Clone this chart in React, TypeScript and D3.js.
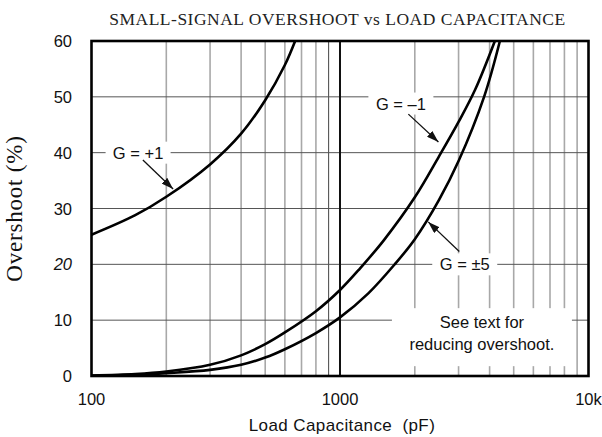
import React from "react";
import * as d3 from "d3";

const WIDTH = 602;
const HEIGHT = 437;
const MARGIN = { top: 41, right: 13.5, bottom: 61, left: 91.5 };

// load capacitance (pF) vs overshoot (%)
const gPlus1 = [
  [100, 25.3], [150, 28.8], [200, 32.1], [300, 37.9], [400, 43.4], [500, 49.4], [600, 55.7], [660, 60],
];
const gMinus1 = [
  [100, 0.1], [150, 0.35], [200, 0.8], [300, 2.0], [400, 3.7], [500, 5.7], [600, 7.8], [800, 11.6],
  [1000, 15.4], [1200, 19.2], [1500, 24.3], [2000, 32], [2500, 39.3], [3000, 45.5], [3500, 51.3], [4200, 60],
];
const gPlusMinus5 = [
  [100, 0.05], [150, 0.2], [200, 0.5], [300, 1.1], [400, 2.0], [500, 3.3], [600, 4.8], [800, 7.7],
  [1000, 10.5], [1300, 14.8], [1660, 20], [2000, 24.5], [2500, 31.5], [3000, 38.5], [3800, 50], [4400, 60],
];

const yTicks = [0, 10, 20, 30, 40, 50, 60];
const xTickLabels = [
  { v: 100, label: "100" },
  { v: 1000, label: "1000" },
  { v: 10000, label: "10k" },
];

// callouts: label anchor and arrow (from -> to), in data units
const callouts = [
  { text: "G = +1", at: [154, 40], from: [161, 38.7], to: [213, 33.5] },
  { text: "G = \u20131", at: [1758, 48.8], from: [1884, 46.9], to: [2489, 41.9] },
  { text: "G = \u00b15", at: [3177, 20], from: [3020, 22.3], to: [2265, 27.6] },
];
const noteLines = ["See text for", "reducing overshoot."];

export default function App() {
  const boundsWidth = WIDTH - MARGIN.left - MARGIN.right;
  const boundsHeight = HEIGHT - MARGIN.top - MARGIN.bottom;

  const xScale = d3.scaleLog().domain([100, 10000]).range([0, boundsWidth]);
  const yScale = d3.scaleLinear().domain([0, 60]).range([boundsHeight, 0]);

  const line = d3
    .line<number[]>()
    .x((d) => xScale(d[0]))
    .y((d) => yScale(d[1]))
    .curve(d3.curveCatmullRom.alpha(0.5));

  const minor: number[] = [];
  for (const dec of [100, 1000]) {
    for (let k = 2; k <= 9; k++) minor.push(dec * k);
  }

  const sans = "'Liberation Sans', Arial, sans-serif";
  const serif = "'Liberation Serif', 'Times New Roman', serif";
  const fontSize = 16.5;

  const vGrid = minor.map((v) => (
    <line
      key={"v" + v}
      x1={xScale(v)}
      x2={xScale(v)}
      y1={0}
      y2={boundsHeight}
      stroke={v === 900 ? "#444" : "#a8a8a8"}
      strokeWidth={v === 900 ? 1 : 1.6}
    />
  ));

  const hGrid = yTicks
    .filter((t) => t > 0 && t < 60)
    .map((t) => (
      <line
        key={"h" + t}
        x1={0}
        x2={boundsWidth}
        y1={yScale(t)}
        y2={yScale(t)}
        stroke="#555"
        strokeWidth={1}
      />
    ));

  const labelBoxes = callouts.map((c, i) => {
    const cx = xScale(c.at[0]);
    const cy = yScale(c.at[1]);
    const w = c.text.length * 9.5 + 8;
    return (
      <g key={"c" + i}>
        <rect x={cx - w / 2} y={cy - 11} width={w} height={22} fill="#fff" />
        <text
          x={cx}
          y={cy + 6}
          textAnchor="middle"
          fontFamily={sans}
          fontSize={fontSize}
          fill="#111"
        >
          {c.text}
        </text>
        <line
          x1={xScale(c.from[0])}
          y1={yScale(c.from[1])}
          x2={xScale(c.to[0])}
          y2={yScale(c.to[1])}
          stroke="#111"
          strokeWidth={1.3}
          markerEnd="url(#arrow)"
        />
      </g>
    );
  });

  const noteX = xScale(3725);
  const noteY = yScale(10);

  return (
    <svg
      width={WIDTH}
      height={HEIGHT}
      style={{ position: "absolute", left: 0, top: 0, background: "#fff" }}
    >
      <defs>
        <marker
          id="arrow"
          viewBox="0 0 12 8"
          refX={12}
          refY={4}
          markerWidth={12}
          markerHeight={8}
          markerUnits="userSpaceOnUse"
          orient="auto"
        >
          <path d="M0,0 L12,4 L0,8 Z" fill="#111" />
        </marker>
        <clipPath id="plot">
          <rect x={0} y={-2} width={boundsWidth} height={boundsHeight + 2} />
        </clipPath>
      </defs>

      <text
        x={337.5}
        y={25}
        textAnchor="middle"
        fontFamily={serif}
        fontSize={17.5}
        letterSpacing={0.5}
        fill="#222"
      >
        SMALL-SIGNAL OVERSHOOT vs LOAD CAPACITANCE
      </text>

      <g transform={`translate(${MARGIN.left},${MARGIN.top})`}>
        {vGrid}
        {hGrid}
        <line
          x1={xScale(1000)}
          x2={xScale(1000)}
          y1={0}
          y2={boundsHeight}
          stroke="#111"
          strokeWidth={2}
        />

        <rect
          x={noteX - 90}
          y={noteY - 12}
          width={180}
          height={58}
          fill="#fff"
        />
        {noteLines.map((t, i) => (
          <text
            key={t}
            x={noteX}
            y={noteY + 8 + i * 22}
            textAnchor="middle"
            fontFamily={sans}
            fontSize={fontSize}
            fill="#111"
          >
            {t}
          </text>
        ))}

        <g clipPath="url(#plot)" fill="none" stroke="#000" strokeWidth={2.6}>
          <path d={line(gPlus1) ?? ""} />
          <path d={line(gMinus1) ?? ""} />
          <path d={line(gPlusMinus5) ?? ""} />
        </g>

        {labelBoxes}

        <rect
          x={0}
          y={0}
          width={boundsWidth}
          height={boundsHeight}
          fill="none"
          stroke="#000"
          strokeWidth={2.6}
        />

        {yTicks.map((t) => (
          <text
            key={"yt" + t}
            x={-19.5}
            y={yScale(t) + 6}
            textAnchor="end"
            fontFamily={sans}
            fontSize={fontSize}
            fontStyle={t === 20 ? "italic" : "normal"}
            fill="#111"
          >
            {t}
          </text>
        ))}

        {xTickLabels.map((t) => (
          <text
            key={"xt" + t.v}
            x={xScale(t.v)}
            y={boundsHeight + 29}
            textAnchor="middle"
            fontFamily={sans}
            fontSize={fontSize}
            fill="#111"
          >
            {t.label}
          </text>
        ))}

        <text
          x={boundsWidth / 2 + 2}
          y={boundsHeight + 55}
          textAnchor="middle"
          fontFamily={sans}
          fontSize={17}
          letterSpacing={0.4}
          fill="#111"
          style={{ whiteSpace: "pre" }}
        >
          {"Load Capacitance  (pF)"}
        </text>

        <text
          transform={`translate(${-70},${boundsHeight / 2}) rotate(-90)`}
          textAnchor="middle"
          fontFamily={serif}
          fontSize={23}
          letterSpacing={0.8}
          fill="#111"
        >
          Overshoot (%)
        </text>
      </g>
    </svg>
  );
}
